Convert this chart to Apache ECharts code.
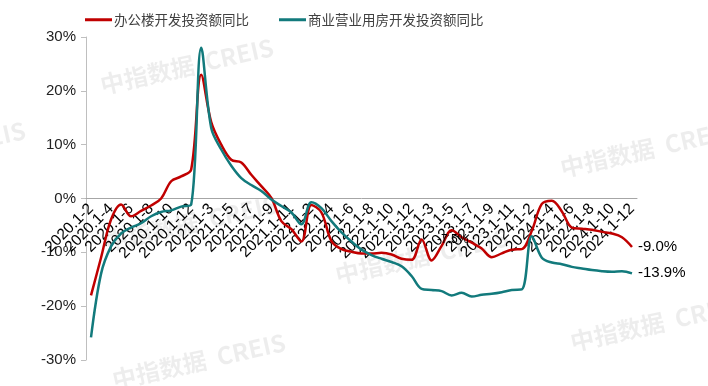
<!DOCTYPE html>
<html><head><meta charset="utf-8">
<script src="https://cdn.jsdelivr.net/npm/echarts@6/dist/echarts.min.js"></script>
<style>html,body{margin:0;padding:0;background:#fff}#c{width:708px;height:386px}</style>
</head><body><div id="c"></div>
<script>
const years = ['2020','2021','2022','2023','2024'];
const months = ['1-2','1-3','1-4','1-5','1-6','1-7','1-8','1-9','1-10','1-11','1-12'];
const categories = [];
years.forEach(y => months.forEach(m => categories.push(y + '.' + m)));

const officeName = '办公楼开发投资额同比';
const commercialName = '商业营业用房开发投资额同比';

const office = [
  -18.0, -11.0, -3.9, -1.1, -3.3, -2.3, -1.3, 0.0, 3.2, 4.1, 5.4,
  23.0, 14.2, 10.0, 7.2, 6.7, 4.4, 2.3, 0.1, -4.2, -5.7, -8.0,
  -1.2, -2.6, -7.9, -9.4, -9.9, -10.2, -10.2, -10.1, -10.4, -11.2, -11.4,
  -7.6, -11.5, -8.8, -5.9, -7.2, -8.2, -9.3, -10.9, -10.2, -9.5, -9.4,
  -6.0, -1.0, -0.4, -2.4, -5.4, -5.6, -5.8, -6.2, -6.5, -7.2, -9.0
];
const commercial = [
  -25.8, -14.0, -8.9, -6.5, -5.4, -4.6, -3.3, -2.5, -2.2, -1.5, -1.1,
  28.0, 13.1, 9.1, 6.1, 3.8, 2.5, 1.4, -0.2, -1.4, -2.6, -4.8,
  -0.7, -1.8, -4.2, -6.3, -8.0, -9.5, -10.5, -11.2, -11.8, -12.6, -14.4,
  -16.8, -17.0, -17.2, -18.0, -17.5, -18.2, -17.9, -17.7, -17.4, -17.0, -16.9,
  -7.0, -11.0, -11.9, -12.2, -12.7, -13.0, -13.3, -13.5, -13.6, -13.5, -13.9
];
const yTicks = {min: -30, max: 30, interval: 10};
const strayLabel = '-7.5%';

const wm = '中指数据  CREIS';
const wmPos = [[98,35],[558,118],[102,192],[333,225],[110,330],[568,292],[-150,118]];

const gridTop = 37, gridBottom = 26, chartH = 386;
const plotH = chartH - gridTop - gridBottom;
const zeroOffset = -plotH * (0 - yTicks.min) / (yTicks.max - yTicks.min);

const chart = echarts.init(document.getElementById('c'));
chart.setOption({
  animation: false,
  textStyle: {fontFamily: 'Liberation Sans, Arial, Noto Sans CJK SC, sans-serif'},
  grid: {left: 86, right: 71, top: gridTop, bottom: gridBottom, containLabel: false, outerBoundsMode: 'none'},
  legend: {
    left: 80, top: 8, itemGap: 30, itemWidth: 27, itemHeight: 3, icon: 'rect',
    textStyle: {fontSize: 13.5, color: '#404040', fontFamily: 'Noto Sans CJK SC, sans-serif', padding: [0,0,0,-3]},
    data: [officeName, commercialName]
  },
  graphic: wmPos.map(p => ({
    type: 'text', left: p[0], top: p[1], z: -1, silent: true,
    rotation: 0.22, originX: 0, originY: 0,
    style: {text: wm, fill: 'rgba(0,0,0,0.07)', font: 'bold 24px "Noto Sans CJK SC", sans-serif'}
  })).concat([{
    type: 'text', left: 437, top: 234, z: 10,
    style: {text: strayLabel, fill: '#000', font: '12px "Liberation Sans", Arial'}
  }]),
  xAxis: {
    type: 'category', data: categories, boundaryGap: true, z: 1,
    offset: zeroOffset,
    axisLine: {onZero: false, lineStyle: {color: '#a6a6a6', width: 1}},
    axisTick: {show: false},
    axisLabel: {interval: 0, rotate: 45, fontSize: 15.5, color: '#000', margin: 8, hideOverlap: false,
                formatter: (v, i) => (i % 2 === 0 ? v : '')}
  },
  yAxis: {
    type: 'value', min: yTicks.min, max: yTicks.max, interval: yTicks.interval,
    axisLine: {show: true, lineStyle: {color: '#bfbfbf'}},
    axisTick: {show: true, length: 5, lineStyle: {color: '#bfbfbf'}},
    splitLine: {show: false},
    axisLabel: {formatter: '{value}%', fontSize: 15, color: '#222', margin: 10}
  },
  series: [
    {name: officeName, type: 'line', data: office, smooth: 0.35, symbol: 'none', z: 5,
     lineStyle: {color: '#c00000', width: 2.5}, itemStyle: {color: '#c00000'},
     endLabel: {show: true, formatter: p => p.value.toFixed(1) + '%', fontSize: 15, color: '#000', distance: 6}},
    {name: commercialName, type: 'line', data: commercial, smooth: 0.35, symbol: 'none', z: 5,
     lineStyle: {color: '#127a7c', width: 2.5}, itemStyle: {color: '#127a7c'},
     endLabel: {show: true, formatter: p => p.value.toFixed(1) + '%', fontSize: 15, color: '#000', distance: 6}}
  ]
});
</script></body></html>
